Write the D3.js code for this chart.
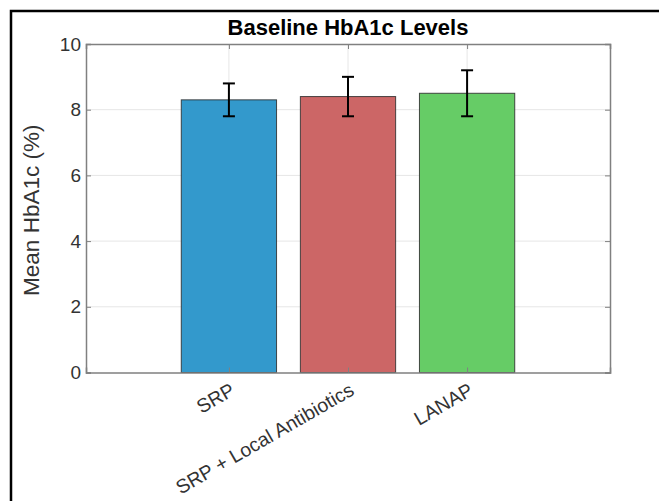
<!DOCTYPE html>
<html>
<head>
<meta charset="utf-8">
<script src="https://cdn.jsdelivr.net/npm/d3@7/dist/d3.min.js"></script>
<style>
  html, body { margin: 0; padding: 0; background: #fff; }
  svg { display: block; font-family: "Liberation Sans", Arial, Helvetica, sans-serif; }
</style>
</head>
<body>
<svg id="chart" width="659" height="501"></svg>
<script>
// Baseline HbA1c by treatment group (mean ± SD)
const groups = ["SRP", "SRP + Local Antibiotics", "LANAP"];
const meanHbA1c = [8.3, 8.4, 8.5];
const sdHbA1c = [0.5, 0.6, 0.7];
const barColors = ["#3399CC", "#CC6666", "#66CC66"];
const yTicks = [0, 2, 4, 6, 8, 10];

const svg = d3.select("#chart");
const plot = { left: 86, right: 610, top: 44, bottom: 372.5 };

// Figure frame
svg.append("rect")
  .attr("x", 11).attr("y", 11)
  .attr("width", 800).attr("height", 700)
  .attr("fill", "none").attr("stroke", "#000").attr("stroke-width", 2.5);

const positions = groups.map((g, i) => i + 1);
const x = d3.scaleLinear().domain([-0.2, 4.2]).range([plot.left, plot.right]);
const y = d3.scaleLinear().domain([0, 10]).range([plot.bottom, plot.top]);
const barWidth = 0.8;

// Grid lines
const grid = svg.append("g").attr("stroke", "#e6e6e6").attr("stroke-width", 1);
grid.selectAll("line.h").data(yTicks.slice(1, -1)).join("line")
  .attr("x1", plot.left).attr("x2", plot.right)
  .attr("y1", d => y(d)).attr("y2", d => y(d));
grid.selectAll("line.v").data(positions).join("line")
  .attr("x1", d => x(d)).attr("x2", d => x(d))
  .attr("y1", plot.top).attr("y2", plot.bottom);

// Bars
svg.append("g").selectAll("rect").data(meanHbA1c).join("rect")
  .attr("x", (d, i) => x(positions[i] - barWidth / 2))
  .attr("width", (d, i) => x(positions[i] + barWidth / 2) - x(positions[i] - barWidth / 2))
  .attr("y", d => y(d))
  .attr("height", d => y(0) - y(d))
  .attr("fill", (d, i) => barColors[i])
  .attr("stroke", "#2b2b2b").attr("stroke-width", 1).attr("stroke-opacity", 0.85);

// Axes (inside ticks, gray box)
const axisColor = "#808080";
const tickLen = 5;
const yAxisL = svg.append("g").attr("transform", `translate(${plot.left},0)`)
  .call(d3.axisLeft(y).tickValues(yTicks).tickSize(-tickLen).tickPadding(5).tickFormat(d3.format("d")));
const yAxisR = svg.append("g").attr("transform", `translate(${plot.right},0)`)
  .call(d3.axisRight(y).tickValues(yTicks).tickSize(-tickLen).tickFormat(""));
const xAxisB = svg.append("g").attr("transform", `translate(0,${plot.bottom})`)
  .call(d3.axisBottom(x).tickValues(positions).tickSize(-tickLen).tickFormat(""));
const xAxisT = svg.append("g").attr("transform", `translate(0,${plot.top})`)
  .call(d3.axisTop(x).tickValues(positions).tickSize(-tickLen).tickFormat(""));

[yAxisL, yAxisR, xAxisB, xAxisT].forEach(a => {
  a.select(".domain").attr("stroke", axisColor).attr("stroke-width", 1.5);
  a.selectAll(".tick line").attr("stroke", axisColor).attr("stroke-width", 1);
});
yAxisL.selectAll(".tick text")
  .attr("font-size", 19).attr("fill", "#333").attr("font-family", "Liberation Sans, Arial, sans-serif");

// Rotated category labels
svg.append("g").selectAll("text").data(groups).join("text")
  .attr("transform", (d, i) => `translate(${x(positions[i]) + 4},388) rotate(-30)`)
  .attr("text-anchor", "end")
  .attr("dy", "0.35em")
  .attr("font-size", 19.5).attr("fill", "#333")
  .text(d => d);

// Error bars
const capHalf = 6;
const err = svg.append("g").attr("stroke", "#000").attr("stroke-width", 2);
meanHbA1c.forEach((m, i) => {
  const cx = x(positions[i]);
  const lo = y(m - sdHbA1c[i]), hi = y(m + sdHbA1c[i]);
  err.append("line").attr("x1", cx).attr("x2", cx).attr("y1", lo).attr("y2", hi);
  err.append("line").attr("x1", cx - capHalf).attr("x2", cx + capHalf).attr("y1", lo).attr("y2", lo);
  err.append("line").attr("x1", cx - capHalf).attr("x2", cx + capHalf).attr("y1", hi).attr("y2", hi);
});

// Title
svg.append("text")
  .attr("x", (plot.left + plot.right) / 2).attr("y", 35)
  .attr("text-anchor", "middle")
  .attr("font-size", 22).attr("font-weight", "bold").attr("fill", "#000")
  .text("Baseline HbA1c Levels");

// Y-axis label
svg.append("text")
  .attr("transform", `translate(39,${(plot.top + plot.bottom) / 2 + 2}) rotate(-90)`)
  .attr("text-anchor", "middle")
  .attr("font-size", 22.5).attr("fill", "#333")
  .text("Mean HbA1c (%)");
</script>
</body>
</html>
